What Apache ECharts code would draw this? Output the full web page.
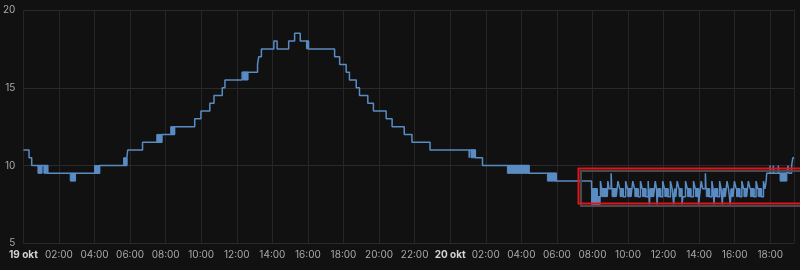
<!DOCTYPE html>
<html>
<head>
<meta charset="utf-8">
<script src="https://cdn.jsdelivr.net/npm/echarts@6/dist/echarts.min.js"></script>
<style>
html,body{margin:0;padding:0;background:#111111;}
#chart{width:800px;height:270px;}
</style>
</head>
<body>
<div id="chart"></div>
<script>
// Step readings: "day HH:MM" and temperature (°C), value holds until next reading
const times = [
  "19 00:00","19 00:19","19 00:28","19 01:22","19 04:17","19 05:49","19 05:52","19 06:42",
  "19 07:47","19 08:30","19 09:38","19 09:59","19 10:29","19 10:43","19 11:11","19 11:20",
  "19 12:18","19 13:10","19 13:14","19 13:23","19 14:05","19 14:16","19 14:55","19 15:15",
  "19 15:34","19 16:02","19 17:30","19 17:47","19 18:09","19 18:20","19 18:43","19 18:54",
  "19 19:22","19 19:41","19 20:24","19 20:44","19 21:25","19 21:51","19 22:52",
  "20 01:04","20 01:05","20 01:25","20 01:49","20 04:26","20 05:58",
  "20 07:57","20 08:16","20 08:27","20 08:31","20 08:50","20 08:52","20 08:56","20 09:03",
  "20 09:05","20 09:20","20 09:26","20 09:32","20 09:44","20 09:52","20 09:58","20 10:10",
  "20 10:16","20 10:22","20 10:34","20 10:42","20 10:48","20 11:00","20 11:08","20 11:12",
  "20 11:15","20 11:26","20 11:32","20 11:36","20 11:38","20 11:41","20 11:50","20 11:57",
  "20 12:03","20 12:15","20 12:23","20 12:29","20 12:34","20 12:37","20 12:41","20 12:46",
  "20 12:52","20 13:02","20 13:05","20 13:14","20 13:20","20 13:32","20 13:41","20 13:47",
  "20 13:58","20 14:01","20 14:07","20 14:12","20 14:21","20 14:23","20 14:35","20 14:43",
  "20 14:47","20 14:50","20 14:53","20 15:02","20 15:09","20 15:14","20 15:18","20 15:21",
  "20 15:28","20 15:34","20 15:39","20 15:45","20 15:48","20 15:54","20 15:59","20 16:05",
  "20 16:17","20 16:24","20 16:30","20 16:40","20 16:46","20 16:52","20 17:05","20 17:12",
  "20 17:18","20 17:30","20 17:37","20 17:42","20 17:46","20 17:48","20 17:59","20 18:01",
  "20 18:10","20 18:12","20 18:27","20 18:29","20 18:56","20 19:00","20 19:02","20 19:12",
  "20 19:16","20 19:20"
];
const temps = [
  11,10.5,10,9.5,10,10.5,11,11.5,
  12,12.5,13,13.5,14,14.5,15,15.5,
  16,16.5,17,17.5,18,17.5,18,18.5,
  18,17.5,17,16.5,16,15.5,15,14.5,
  14,13.5,13,12.5,12,11.5,11,
  10.5,11,10.5,10,9.5,9,
  8.5,8,9,8.5,8,9,8.5,9.5,
  8.5,8,9,8.5,8,9,8.5,8,
  9,8.5,8,9,8.5,8,9,7.5,
  8.5,8,9,8.5,7.5,8.5,8,9,
  8.5,8,9,8.5,7.5,8.5,8,9,
  8.5,7.5,8,9,8.5,8,9,8.5,
  7.5,8,9,8.5,9.5,8.5,8,9,
  8.5,7.5,8.5,8,9,8.5,7.5,8.5,
  8,9,8.5,7.5,8.5,8,9,8.5,
  8,9,8.5,8,9,8.5,8,9,
  8.5,8,9,8.5,9,9.5,10,9.5,
  10,9.5,10,9.5,9.5,10,9.5,10,
  10.5,10.5
];
// Spans where the sensor flickers between two readings: start, end, low, high
const flickerStart = ["19 00:49","19 01:09","19 02:38","19 04:00","19 05:38","19 07:30","19 08:17","19 12:21","19 15:55",
  "20 01:10","20 03:13","20 05:28","20 07:57","20 08:16","20 08:31","20 09:06","20 09:33","20 09:59","20 10:23",
  "20 10:49","20 11:15","20 11:41","20 12:04","20 12:37","20 12:52","20 13:21","20 13:48","20 14:24","20 14:53",
  "20 15:21","20 15:48","20 16:06","20 16:31","20 16:53","20 17:19","20 18:33"];
const flickerEnd = ["19 01:03","19 01:22","19 02:56","19 04:17","19 05:49","19 07:47","19 08:30","19 12:38","19 16:02",
  "20 01:25","20 04:26","20 05:58","20 08:16","20 08:26","20 08:50","20 09:20","20 09:44","20 10:10","20 10:34",
  "20 11:00","20 11:26","20 11:50","20 12:15","20 12:41","20 13:01","20 13:32","20 13:57","20 14:35","20 15:02",
  "20 15:28","20 15:54","20 16:17","20 16:40","20 17:05","20 17:30","20 18:56"];
const flickerLow = [9.5,9.5,9,9.5,10,11.5,12,15.5,17.5,
  10.5,9.5,9,7.5,7.5,8,8,8,8,8,
  8,8,8,8,8,8,8,8,8,8,
  8,8,8,8,8,8,9];
const flickerHigh = [10,10,9.5,10,10.5,12,12.5,16,18,
  11,10,9.5,8.5,8,8.5,8.5,8.5,8.5,8.5,
  8.5,8.5,8.5,8.5,8.5,8.5,8.5,8.5,8.5,8.5,
  8.5,8.5,8.5,8.5,8.5,8.5,9.5];
const yTicks = [5, 10, 15, 20];
const firstDay = 19;
const monthLabel = "okt";

function toHours(s) {
  const d = parseInt(s.slice(0, 2), 10);
  const h = parseInt(s.slice(3, 5), 10);
  const m = parseInt(s.slice(6, 8), 10);
  return (d - firstDay) * 24 + h + m / 60;
}
const lineData = times.map((t, i) => [toHours(t), temps[i]]);
const bandData = flickerStart.map((s, i) => [toHours(s), toHours(flickerEnd[i]), flickerLow[i], flickerHigh[i]]);

const color = '#5a8cc4';
const chart = echarts.init(document.getElementById('chart'), null, { renderer: 'canvas' });
chart.setOption({
  backgroundColor: '#111111',
  animation: false,
  grid: { left: 21.3, right: 6, top: 10, bottom: 26.7 },
  xAxis: {
    type: 'value', min: 0, max: 43 + 20 / 60, interval: 2,
    axisLine: { show: false }, axisTick: { show: false },
    splitLine: { show: true, lineStyle: { color: '#262626', width: 1 } },
    axisLabel: {
      color: '#a8a8ae', fontSize: 10, fontFamily: 'Inter, Roboto, sans-serif', margin: 7,
      showMaxLabel: false,
      formatter: function (v) {
        const hv = Math.round(v);
        if (hv % 24 === 0) return '{d|' + (firstDay + hv / 24) + ' ' + monthLabel + '}';
        const hh = hv % 24;
        return (hh < 10 ? '0' : '') + hh + ':00';
      },
      rich: { d: { fontWeight: 'bold', color: '#d2d2d8', fontSize: 10, fontFamily: 'Inter, Roboto, sans-serif' } }
    }
  },
  yAxis: {
    type: 'value', min: yTicks[0], max: yTicks[yTicks.length - 1], interval: yTicks[1] - yTicks[0],
    axisLine: { show: false }, axisTick: { show: false },
    splitLine: { show: true, lineStyle: { color: '#2a2a2a', width: 1 } },
    axisLabel: { color: '#a8a8ae', fontSize: 10, fontFamily: 'Inter, Roboto, sans-serif', margin: 8 }
  },
  series: [
    {
      type: 'line', step: 'end', data: lineData, showSymbol: false,
      lineStyle: { color: color, width: 1.5 }, z: 3
    },
    {
      type: 'custom', data: bandData, encode: { x: [0, 1], y: [2, 3] }, z: 4,
      renderItem: function (params, api) {
        const p1 = api.coord([api.value(0), api.value(3)]);
        const p2 = api.coord([api.value(1), api.value(2)]);
        return {
          type: 'rect',
          shape: { x: p1[0], y: p1[1], width: p2[0] - p1[0], height: p2[1] - p1[1] },
          style: { fill: color, stroke: color, lineWidth: 1 }
        };
      }
    }
  ],
  graphic: [
    { type: 'rect', shape: { x: 581, y: 171, width: 240, height: 35 }, style: { fill: 'none', stroke: '#4a4a4a', lineWidth: 2 }, z: 10 },
    { type: 'rect', shape: { x: 578.5, y: 168.5, width: 240, height: 35 }, style: { fill: 'none', stroke: '#e0141c', lineWidth: 2 }, z: 11 }
  ]
});
</script>
</body>
</html>
